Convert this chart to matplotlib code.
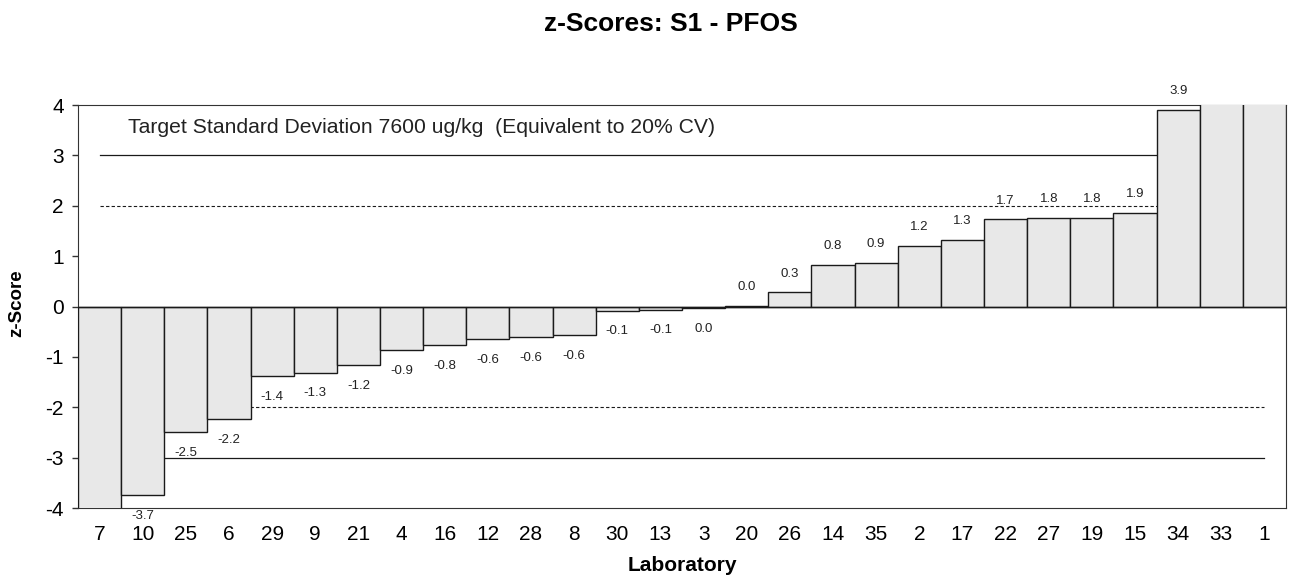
import numpy as np
import matplotlib.pyplot as plt

plt.rcParams['font.family'] = ['Liberation Sans', 'DejaVu Sans']
plt.rcParams['axes.unicode_minus'] = False

# laboratories in plotted order and their z-scores
labs = ['7', '10', '25', '6', '29', '9', '21', '4', '16', '12', '28', '8', '30',
        '13', '3', '20', '26', '14', '35', '2', '17', '22', '27', '19', '15',
        '34', '33', '1']
zscores = [-4.6, -3.74, -2.50, -2.23, -1.38, -1.31, -1.17, -0.87, -0.77, -0.64,
           -0.61, -0.56, -0.08, -0.06, -0.03, 0.02, 0.28, 0.82, 0.87, 1.20,
           1.33, 1.73, 1.76, 1.76, 1.86, 3.90, 4.8, 5.6]

fig = plt.figure(figsize=(12.93, 5.78), dpi=100)
ax = fig.add_axes([0.0603, 0.1211, 0.9343, 0.6972])

x = np.arange(len(labs))
ax.bar(x, zscores, width=1.0, color='#e8e8e8', edgecolor='#1a1a1a',
       linewidth=1.0, zorder=3)

# limit lines
n = len(labs)
for lvl in (3, -3):
    ax.plot([0, n - 1], [lvl, lvl], color='#1a1a1a', lw=0.9, zorder=2)
for lvl in (2, -2):
    ax.plot([0, n - 1], [lvl, lvl], color='#1a1a1a', lw=0.8,
            linestyle=(0, (3, 2)), zorder=2)
ax.axhline(0, color='#1a1a1a', lw=1.0, zorder=4)

# value labels (bars outside +-4 are cut off and get none)
for xi, v in zip(x, zscores):
    if abs(v) > 4:
        continue
    r = round(v, 1)
    txt = '0.0' if r == 0 else '%.1f' % r
    off = 13.5 if v >= 0 else -15
    ax.annotate(txt, (xi, v), xytext=(0, off), textcoords='offset points',
                ha='center', va='center', fontsize=9.5, color='#222222',
                annotation_clip=False)

ax.text(0.66, 3.55, 'Target Standard Deviation 7600 ug/kg  (Equivalent to 20% CV)',
        fontsize=15.2, color='#222222', va='center', ha='left')

ax.set_xlim(-0.5, n - 0.5)
ax.set_ylim(-4, 4)
ax.set_xticks(x)
ax.set_xticklabels(labs, fontsize=15)
ax.tick_params(axis='x', length=0, pad=12)
ax.tick_params(axis='y', length=4.3, width=1, labelsize=15, pad=6,
               direction='out', color='#333333')
ax.set_yticks(range(-4, 5))
for s in ax.spines.values():
    s.set_color('#333333')
    s.set_zorder(1)

ax.set_xlabel('Laboratory', fontsize=15, fontweight='bold', labelpad=9)
ax.set_ylabel('z-Score', fontsize=13.5, fontweight='bold')
ax.yaxis.set_label_coords((25 / 1293 - 0.0603) / 0.9343, 0.5 + 3 / 402)
fig.text(0.519, 1 - 24 / 578, 'z-Scores: S1 - PFOS', fontsize=19,
         fontweight='bold', ha='center', va='center')

fig.savefig('out.png', dpi=100)
